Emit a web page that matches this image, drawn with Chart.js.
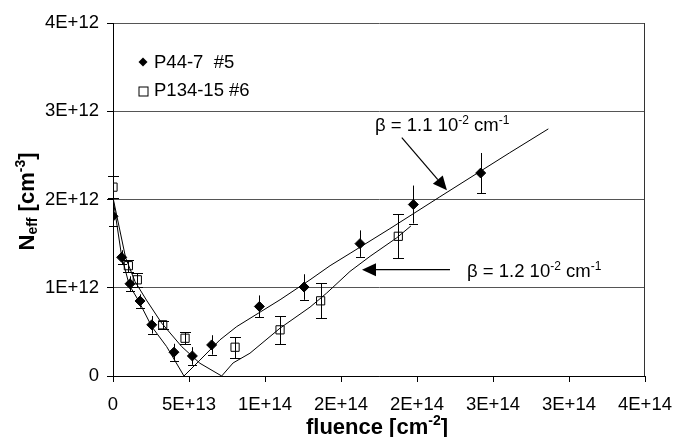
<!DOCTYPE html>
<html><head><meta charset="utf-8">
<script src="https://cdn.jsdelivr.net/npm/chart.js@4.4.0/dist/chart.umd.min.js"></script>
<style>html,body{margin:0;padding:0;background:#fff;}#wrap{width:675px;height:437px;}</style>
</head><body><div id="wrap"><canvas id="c" width="675" height="437"></canvas></div>
<script>
const FONT = "'Liberation Sans', Arial, sans-serif";
const xTickLabels = ['0','5E+13','1E+14','2E+14','2E+14','3E+14','3E+14','4E+14'];
const yTickLabels = ['0','1E+12','2E+12','3E+12','4E+12'];
const seriesNames = ['P44-7  #5','P134-15 #6'];

// P44-7 #5 (filled diamonds)
const p44Fluence = [0, 0.57e13, 1.12e13, 1.78e13, 2.55e13, 4.01e13, 5.22e13, 6.49e13, 9.63e13, 12.57e13, 16.25e13, 19.76e13, 24.19e13];
const p44Neff    = [1.81e12, 1.345e12, 1.045e12, 0.85e12, 0.58e12, 0.27e12, 0.227e12, 0.352e12, 0.788e12, 1.008e12, 1.5e12, 1.943e12, 2.30e12];
const p44Err     = [0.11e12, 0.08e12, 0.085e12, 0.075e12, 0.1e12, 0.095e12, 0.1e12, 0.11e12, 0.125e12, 0.145e12, 0.15e12, 0.215e12, 0.227e12];

// P134-15 #6 (open squares)
const p134Fluence = [0, 1.01e13, 1.6e13, 3.27e13, 4.74e13, 8.03e13, 10.99e13, 13.66e13, 18.77e13];
const p134Neff    = [2.14e12, 1.25e12, 1.09e12, 0.58e12, 0.428e12, 0.326e12, 0.523e12, 0.852e12, 1.583e12];
const p134Err     = [0.127e12, 0.07e12, 0.076e12, 0.045e12, 0.065e12, 0.12e12, 0.16e12, 0.2e12, 0.25e12];

// fit curves
const fit1Fluence = [0, 0.57e13, 1.07e13, 1.66e13, 2.55e13, 3.53e13, 4.67e13, 5.72e13, 7.04e13, 8.14e13, 10.99e13, 12.96e13, 14.28e13, 15.6e13, 18.22e13, 21.5e13, 26.1e13, 28.64e13];
const fit1Neff    = [2.01e12, 1.356e12, 1.03e12, 0.86e12, 0.56e12, 0.333e12, 0, 0.18e12, 0.41e12, 0.56e12, 0.864e12, 1.09e12, 1.25e12, 1.39e12, 1.67e12, 2.03e12, 2.53e12, 2.80e12];
const fit2Fluence = [0, 0.83e13, 1.45e13, 2.2e13, 3.2e13, 4.52e13, 5.72e13, 7.15e13, 7.9e13, 9.01e13, 10.99e13, 12.96e13, 14.06e13, 15.59e13, 16.91e13, 18.66e13, 19.6e13];
const fit2Neff    = [2.02e12, 1.34e12, 1.07e12, 0.86e12, 0.6e12, 0.333e12, 0.144e12, 0, 0.148e12, 0.258e12, 0.542e12, 0.78e12, 0.94e12, 1.185e12, 1.356e12, 1.565e12, 1.70e12];

// annotations (data coordinates)
const annot1 = {label:['β = 1.1 10','-2',' cm','-1'], textX:1.724e14, textY:2.773e12, fromX:1.90e14, fromY:2.70e12, toX:2.197e14, toY:2.105e12};
const annot2 = {label:['β = 1.2 10','-2',' cm','-1'], textX:2.329e14, textY:1.125e12, fromX:2.217e14, fromY:1.2045e12, toX:1.638e14, toY:1.2045e12};

const pts = (xs, ys) => xs.map((x,i)=>({x:x, y:ys[i]}));

function drawRich(ctx, segs, x, y, align) {
  let w = 0;
  for (const s of segs) { ctx.font = (s.bold?'bold ':'') + s.size + 'px ' + FONT; s.w = ctx.measureText(s.t).width; w += s.w; }
  let cx = align === 'center' ? x - w/2 : x;
  ctx.textAlign = 'left'; ctx.textBaseline = 'alphabetic'; ctx.fillStyle = '#000';
  for (const s of segs) { ctx.font = (s.bold?'bold ':'') + s.size + 'px ' + FONT; ctx.fillText(s.t, cx, y + (s.dy||0)); cx += s.w; }
}

function arrow(ctx, x1, y1, x2, y2, len, half) {
  const a = Math.atan2(y2-y1, x2-x1);
  const bx = x2 - len*Math.cos(a), by = y2 - len*Math.sin(a);
  ctx.strokeStyle = '#000'; ctx.lineWidth = 1.2;
  ctx.beginPath(); ctx.moveTo(x1, y1); ctx.lineTo(bx, by); ctx.stroke();
  ctx.fillStyle = '#000';
  ctx.beginPath();
  ctx.moveTo(x2, y2);
  ctx.lineTo(bx + half*Math.sin(a), by - half*Math.cos(a));
  ctx.lineTo(bx - half*Math.sin(a), by + half*Math.cos(a));
  ctx.closePath(); ctx.fill();
}

const decor = {
  id: 'decor',
  beforeDatasetsDraw(chart) {
    const {ctx, chartArea:a, scales:{x, y}} = chart;
    ctx.save();
    ctx.strokeStyle = '#333'; ctx.lineWidth = 1;
    ctx.beginPath(); ctx.moveTo(a.right - 0.5, a.top); ctx.lineTo(a.right - 0.5, a.bottom); ctx.stroke();
    ctx.strokeStyle = '#000'; ctx.lineWidth = 1;
    p44Fluence.forEach((f,i) => {
      const px = Math.round(x.getPixelForValue(f)) + 0.5;
      const t = y.getPixelForValue(p44Neff[i] + p44Err[i]);
      const b = y.getPixelForValue(p44Neff[i] - p44Err[i]);
      ctx.beginPath(); ctx.moveTo(px, t); ctx.lineTo(px, b);
      ctx.moveTo(px - 4.5, Math.round(b)+0.5); ctx.lineTo(px + 4.5, Math.round(b)+0.5); ctx.stroke();
    });
    p134Fluence.forEach((f,i) => {
      const px = Math.round(x.getPixelForValue(f)) + 0.5;
      const t = Math.round(y.getPixelForValue(p134Neff[i] + p134Err[i])) + 0.5;
      const b = Math.round(y.getPixelForValue(p134Neff[i] - p134Err[i])) + 0.5;
      ctx.beginPath(); ctx.moveTo(px, t); ctx.lineTo(px, b);
      ctx.moveTo(px - 5.5, t); ctx.lineTo(px + 5.5, t);
      ctx.moveTo(px - 5.5, b); ctx.lineTo(px + 5.5, b); ctx.stroke();
    });
    ctx.restore();
  },
  afterDraw(chart) {
    const {ctx, chartArea:a, scales:{x, y}} = chart;
    ctx.save();
    const lx = a.left + 30, ly1 = a.top + 39, ly2 = a.top + 68;
    ctx.fillStyle = '#000';
    ctx.beginPath(); ctx.moveTo(lx, ly1-4.5); ctx.lineTo(lx+4.5, ly1); ctx.lineTo(lx, ly1+4.5); ctx.lineTo(lx-4.5, ly1); ctx.closePath(); ctx.fill();
    ctx.strokeStyle = '#000'; ctx.lineWidth = 1;
    ctx.strokeRect(lx-4, ly2-4, 9, 9);
    ctx.font = '18.5px ' + FONT; ctx.textAlign = 'left'; ctx.textBaseline = 'alphabetic';
    ctx.fillText(seriesNames[0], lx + 11, ly1 + 6);
    ctx.fillText(seriesNames[1], lx + 11, ly2 + 5);
    for (const an of [annot1, annot2]) {
      drawRich(ctx, [
        {t:an.label[0], size:18.5}, {t:an.label[1], size:12, dy:-7},
        {t:an.label[2], size:18.5}, {t:an.label[3], size:12, dy:-7}
      ], x.getPixelForValue(an.textX), y.getPixelForValue(an.textY), 'left');
      arrow(ctx, x.getPixelForValue(an.fromX), y.getPixelForValue(an.fromY), x.getPixelForValue(an.toX), y.getPixelForValue(an.toY), 14, 6.5);
    }
    drawRich(ctx, [
      {t:'fluence [cm', size:22, bold:true}, {t:'-2', size:14, bold:true, dy:-9}, {t:']', size:22, bold:true}
    ], (a.left + a.right)/2 - 2, 434, 'center');
    ctx.translate(34, (a.top + a.bottom)/2 + 2);
    ctx.rotate(-Math.PI/2);
    drawRich(ctx, [
      {t:'N', size:22, bold:true}, {t:'eff', size:14, bold:true, dy:3},
      {t:' [cm', size:22, bold:true}, {t:'-3', size:14, bold:true, dy:-9}, {t:']', size:22, bold:true}
    ], 0, 0, 'center');
    ctx.restore();
  }
};

new Chart(document.getElementById('c'), {
  type: 'scatter',
  data: { datasets: [
    {label: seriesNames[0], data: pts(p44Fluence, p44Neff), pointStyle:'rectRot', pointRadius:5, backgroundColor:'#000', borderColor:'#000', borderWidth:1},
    {label: seriesNames[1], data: pts(p134Fluence, p134Neff), pointStyle:'rect', pointRadius:5.8, backgroundColor:'rgba(0,0,0,0)', borderColor:'#000', borderWidth:1},
    {label: 'fit β=1.1', data: pts(fit1Fluence, fit1Neff), showLine:true, borderColor:'#000', borderWidth:1, pointRadius:0, tension:0},
    {label: 'fit β=1.2', data: pts(fit2Fluence, fit2Neff), showLine:true, borderColor:'#000', borderWidth:1, pointRadius:0, tension:0}
  ]},
  options: {
    responsive:false, animation:false, devicePixelRatio:1,
    layout:{padding:{top:23, right:30, left:0, bottom:0}},
    plugins:{legend:{display:false}, tooltip:{enabled:false}},
    scales:{
      x:{type:'linear', min:0, max:3.5e14,
        ticks:{stepSize:5e13, autoSkip:false, maxRotation:0, callback:(v,i)=>xTickLabels[i], font:{family:FONT, size:18.5}, color:'#000', padding:12},
        grid:{drawOnChartArea:false, color:'#000', tickColor:'#000', tickLength:6},
        border:{color:'#000', width:1},
        afterFit(s){ s.height = 61; s.paddingLeft = 0; s.paddingRight = 0; }
      },
      y:{min:0, max:4e12,
        ticks:{stepSize:1e12, callback:(v,i)=>yTickLabels[i], font:{family:FONT, size:18.5}, color:'#000', padding:8},
        grid:{color:'#555', tickColor:'#000', tickLength:6},
        border:{color:'#000', width:1},
        afterFit(s){ s.width = 113; s.paddingTop = 0; s.paddingBottom = 0; }
      }
    }
  },
  plugins:[decor]
});
</script>
</body></html>
